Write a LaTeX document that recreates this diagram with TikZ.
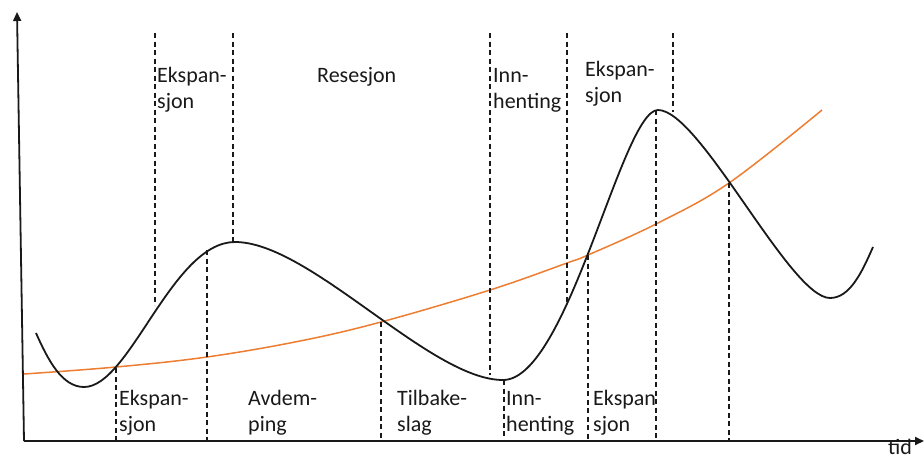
\documentclass[tikz,border=0pt]{standalone}
\usepackage{fontspec}
\setmainfont{Carlito}
\usetikzlibrary{arrows.meta}
\definecolor{trendorange}{RGB}{237,125,49}
\definecolor{inkgray}{RGB}{25,25,25}
\begin{document}
\begin{tikzpicture}[x=1pt,y=-1pt,
  axisline/.style={line width=1.8pt,draw=inkgray,-{Triangle[length=9pt,width=8pt]}},
  cyclecurve/.style={line width=1.8pt,draw=inkgray},
  trendcurve/.style={line width=1.5pt,draw=trendorange},
  guide/.style={line width=1.2pt,draw=inkgray,dash pattern=on 5pt off 3.5pt},
  lbl/.style={font=\fontsize{22}{26}\selectfont,inner sep=0pt,anchor=base west,align=left,text=inkgray}]
\useasboundingbox (0,0) rectangle (924,459);
% axes
\coordinate (O) at (24,441);
\coordinate (Ytop) at (17,12);
\coordinate (Xend) at (924,441);
\draw[axisline] (O) -- (Ytop);
\draw[axisline] (O) -- (Xend);
% trend (orange)
\draw[trendcurve] plot[smooth,tension=0.6] coordinates {(24,374) (116,367) (207,357) (300,341) (381,322) (490,290) (567,263) (588,255) (656,224) (729,183) (822,110)};
% cycle (black)
\draw[cyclecurve] (36,333) .. controls (48,360) and (62,387) .. (84,387)
  .. controls (130,387) and (172,242) .. (235,242)
  .. controls (310,242) and (430,380) .. (503,380)
  .. controls (568,380) and (622,110) .. (658,110)
  .. controls (700,110) and (790,298) .. (830,298)
  .. controls (850,298) and (862,272) .. (873,247);
% guide coordinates
\coordinate (g1t) at (155,33);  \coordinate (g1b) at (155,305);
\coordinate (g2t) at (233,33);  \coordinate (g2b) at (233,242);
\coordinate (g3t) at (116,368); \coordinate (g3b) at (116,441);
\coordinate (g4t) at (207,250); \coordinate (g4b) at (207,441);
\coordinate (g5t) at (381,322); \coordinate (g5b) at (381,441);
\coordinate (g6t) at (490,33);  \coordinate (g6b) at (490,375);
\coordinate (g7t) at (567,33);  \coordinate (g7b) at (567,303);
\coordinate (g8t) at (504,380); \coordinate (g8b) at (504,441);
\coordinate (g9t) at (588,255); \coordinate (g9b) at (588,441);
\coordinate (g10t) at (673,33); \coordinate (g10b) at (673,112);
\coordinate (g11t) at (656,110); \coordinate (g11b) at (656,441);
\coordinate (g12t) at (729,183); \coordinate (g12b) at (729,441);
\foreach \g in {g1,g2,g3,g4,g5,g6,g7,g8,g9,g10,g11,g12}
  \draw[guide] (\g t) -- (\g b);
% labels top (base = last line)
\node[lbl] (topA) at (157,108) {Ekspan-\\sjon};
\node[lbl] (topB) at (317,82) {Resesjon};
\node[lbl] (topC) at (493,108) {Inn-\\henting};
\node[lbl] (topD) at (585,102) {Ekspan-\\sjon};
% labels bottom
\node[lbl] (botA) at (119,431) {Ekspan-\\sjon};
\node[lbl] (botB) at (248,431) {Avdem-\\ping};
\node[lbl] (botC) at (397,431) {Tilbake-\\slag};
\node[lbl] (botD) at (506,431) {Inn-\\henting};
\node[lbl] (botE) at (593,431) {Ekspan\\sjon};
\node[lbl] (tid) at (888,454) {tid};
\end{tikzpicture}
\end{document}
